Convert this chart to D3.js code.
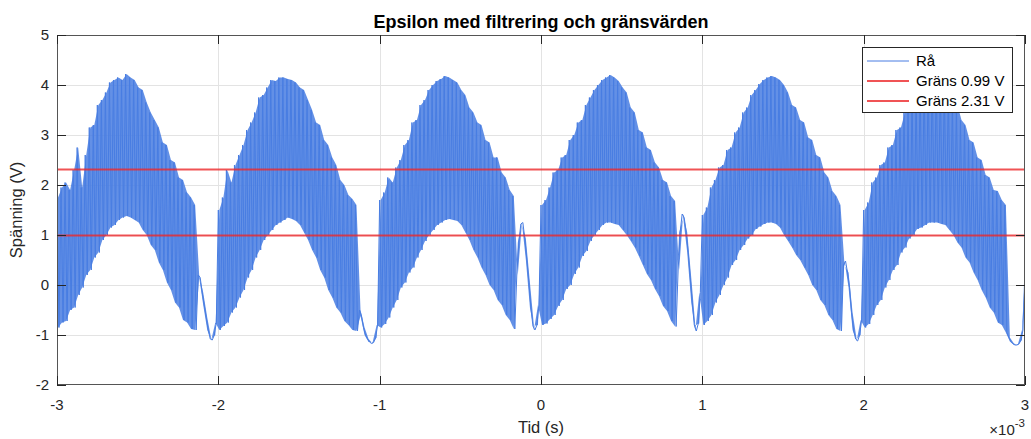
<!DOCTYPE html>
<html>
<head>
<meta charset="utf-8">
<script src="https://cdn.jsdelivr.net/npm/d3@7"></script>
<style>
  body { margin: 0; background: #fff; }
  svg { display: block; }
  text { font-family: "Liberation Sans", Arial, Helvetica, sans-serif; fill: #262626; }
</style>
</head>
<body>
<svg id="chart" width="1031" height="439"></svg>
<script>
// Axis ticks (time in units of 1e-3 s)
const xTicks = [-3, -2, -1, 0, 1, 2, 3];
const yTicks = [-2, -1, 0, 1, 2, 3, 4, 5];

// Threshold levels (V)
const thresholds = [0.99, 2.31];
const legendLabels = ["Rå", "Gräns 0.99 V", "Gräns 2.31 V"];

// Raw signal, one bin every 0.025 ms from -3 to 3 ms:
// peaks = value at the start of the bin, troughs = value half a bin later
const sampleStep = 0.025;
const peaks = [
  1.75, 1.95, 2.05, 1.9, 2.3, 2.75, 1.95, 2.6, 3.15, 3.2,
  3.6, 3.7, 3.85, 4.05, 4.1, 4.15, 4.1, 4.22, 4.15, 4.1,
  3.95, 3.9, 3.65, 3.45, 3.3, 3.15, 2.85, 2.8, 2.5, 2.45,
  2.15, 2.1, 1.85, 1.75, 1.6, 0.2, -0.15, -0.65, -1.08, -1.0,

  1.5, 1.75, 2.3, 2.05, 2.4, 2.6, 2.8, 3.1, 3.25, 3.45,
  3.75, 3.8, 3.95, 4.1, 4.08, 4.15, 4.15, 4.12, 4.1, 4.05,
  3.95, 3.9, 3.7, 3.5, 3.25, 3.2, 2.9, 2.8, 2.55, 2.4,
  2.1, 2.0, 1.8, 1.72, 1.6, -0.5, -0.85, -1.08, -1.17, -1.05,

  1.7, 1.85, 2.15, 2.05, 2.35, 2.5, 2.8, 2.9, 3.25, 3.3,
  3.6, 3.7, 3.9, 4.0, 4.08, 4.12, 4.18, 4.15, 4.1, 4.05,
  3.9, 3.8, 3.55, 3.45, 3.25, 3.2, 2.9, 2.85, 2.55, 2.55,
  2.25, 2.15, 1.9, 1.78, 0.2, 1.22, 0.92, 0.05, -0.82, -0.8,

  1.6, 1.7, 1.95, 2.25, 2.3, 2.55, 2.6, 2.9, 3.0, 3.25,
  3.3, 3.6, 3.75, 3.9, 4.0, 4.1, 4.15, 4.2, 4.15, 4.08,
  3.95, 3.85, 3.55, 3.45, 3.1, 3.05, 2.75, 2.7, 2.45, 2.35,
  2.1, 2.05, 1.78, 1.68, 0.3, 1.42, 1.05, 0.15, -0.8, -0.77,

  1.4, 1.55, 1.95, 2.1, 2.35, 2.4, 2.7, 2.75, 3.05, 3.15,
  3.45, 3.55, 3.8, 3.9, 4.02, 4.1, 4.15, 4.18, 4.15, 4.1,
  4.0, 3.85, 3.6, 3.55, 3.3, 3.25, 2.95, 2.9, 2.6, 2.55,
  2.25, 2.15, 1.88, 1.78, 1.6, 0.4, 0.25, -0.55, -1.08, -1.0,

  1.5, 1.65, 2.05, 2.15, 2.4, 2.45, 2.75, 2.8, 3.1, 3.15,
  3.45, 3.5, 3.75, 3.8, 3.98, 4.05, 4.1, 4.15, 4.15, 4.1,
  4.0, 3.9, 3.7, 3.6, 3.3, 3.2, 2.9, 2.85, 2.55, 2.5,
  2.2, 2.15, 1.9, 1.88, 1.7, 1.6, -1.05, -1.17, -1.2, -1.1,
  0.35
];
const troughs = [
  -0.85, -0.75, -0.72, -0.5, -0.45, -0.2, -0.05, 0.2, 0.3, 0.55,
  0.65, 0.9, 1.0, 1.15, 1.2, 1.3, 1.35, 1.38, 1.35, 1.3,
  1.25, 1.1, 1.0, 0.8, 0.7, 0.45, 0.3, 0.05, -0.1, -0.35,
  -0.45, -0.7, -0.75, -0.88, -0.9, 0.15, -0.4, -0.9, -1.1, -0.75,

  -0.9, -0.82, -0.75, -0.55, -0.45, -0.25, -0.1, 0.15, 0.3, 0.55,
  0.7, 0.9, 1.0, 1.1, 1.2, 1.25, 1.3, 1.35, 1.32, 1.28,
  1.2, 1.05, 0.9, 0.7, 0.55, 0.3, 0.15, -0.1, -0.25, -0.45,
  -0.55, -0.72, -0.8, -0.9, -0.92, -0.62, -1.0, -1.14, -1.15, -0.8,

  -0.85, -0.78, -0.65, -0.45, -0.3, -0.05, 0.05, 0.25, 0.35, 0.55,
  0.7, 0.88, 1.0, 1.1, 1.2, 1.25, 1.3, 1.32, 1.3, 1.28,
  1.2, 1.05, 0.9, 0.7, 0.55, 0.35, 0.2, 0.0, -0.1, -0.3,
  -0.4, -0.6, -0.7, -0.88, 0.85, 1.25, 0.5, -0.45, -0.9, -0.4,

  -0.8, -0.77, -0.68, -0.6, -0.42, -0.3, -0.08, 0.0, 0.22, 0.35,
  0.58, 0.68, 0.88, 1.0, 1.1, 1.2, 1.25, 1.25, 1.22, 1.2,
  1.1, 1.0, 0.88, 0.75, 0.58, 0.4, 0.22, 0.1, -0.08, -0.22,
  -0.42, -0.52, -0.72, -0.83, 1.05, 1.35, 0.65, -0.35, -0.92, -0.15,

  -0.8, -0.72, -0.6, -0.35, -0.2, 0.0, 0.15, 0.4, 0.5, 0.7,
  0.8, 0.93, 1.0, 1.12, 1.17, 1.22, 1.25, 1.25, 1.22, 1.15,
  1.0, 0.88, 0.75, 0.6, 0.5, 0.35, 0.2, 0.0, -0.1, -0.3,
  -0.4, -0.6, -0.7, -0.88, -0.92, 0.48, -0.05, -0.9, -1.12, -0.7,

  -0.85, -0.78, -0.6, -0.4, -0.3, -0.05, 0.1, 0.3, 0.4, 0.65,
  0.75, 0.93, 1.0, 1.12, 1.15, 1.2, 1.25, 1.25, 1.25, 1.22,
  1.2, 1.1, 1.0, 0.85, 0.75, 0.55, 0.45, 0.25, 0.1, -0.1,
  -0.25, -0.45, -0.55, -0.75, -0.8, -0.95, -1.13, -1.2, -1.18, -0.9,
  0.6
];

const plot = { left: 57, right: 1025, top: 35, bottom: 385 };

const svg = d3.select("#chart");
const x = d3.scaleLinear().domain([-3, 3]).range([plot.left, plot.right]);
const y = d3.scaleLinear().domain([-2, 5]).range([plot.bottom, plot.top]);

const blue = "rgb(72,125,226)";
const red = "rgb(236,40,42)";
const axisColor = "#262626";

// Plot background
svg.append("rect")
  .attr("x", plot.left).attr("y", plot.top)
  .attr("width", plot.right - plot.left).attr("height", plot.bottom - plot.top)
  .attr("fill", "#fff");

// Grid
const grid = svg.append("g").attr("stroke", "#e3e3e3").attr("stroke-width", 1);
grid.selectAll("line.gx").data(xTicks.slice(1, -1)).join("line")
  .attr("x1", d => Math.round(x(d)) + 0.5).attr("x2", d => Math.round(x(d)) + 0.5)
  .attr("y1", plot.top).attr("y2", plot.bottom);
grid.selectAll("line.gy").data(yTicks.slice(1, -1)).join("line")
  .attr("y1", d => Math.round(y(d)) + 0.5).attr("y2", d => Math.round(y(d)) + 0.5)
  .attr("x1", plot.left).attr("x2", plot.right);

svg.append("clipPath").attr("id", "plotClip")
  .append("rect")
  .attr("x", plot.left).attr("y", plot.top)
  .attr("width", plot.right - plot.left).attr("height", plot.bottom - plot.top);

const dataLayer = svg.append("g").attr("clip-path", "url(#plotClip)");

// Signal bins
const bins = peaks.map((p, i) => ({ t: -3 + i * sampleStep, hi: p, lo: troughs[i] }));

// Filled envelope of the fast oscillation
const band = d3.area()
  .x(d => x(d.t + sampleStep / 4))
  .y0(d => y(d.lo))
  .y1(d => y(d.hi));
dataLayer.append("path")
  .datum(bins)
  .attr("d", band)
  .attr("fill", blue)
  .attr("fill-opacity", 0.85);

// Raw trace: peak then trough in each bin
const trace = [];
bins.forEach(b => {
  trace.push([b.t, b.hi]);
  trace.push([b.t + sampleStep / 2, b.lo]);
});
const line = d3.line().x(d => x(d[0])).y(d => y(d[1]));
dataLayer.append("path")
  .datum(trace)
  .attr("d", line)
  .attr("fill", "none")
  .attr("stroke", blue)
  .attr("stroke-width", 1)
  .attr("stroke-linejoin", "miter");

// Threshold lines
dataLayer.selectAll("line.thr").data(thresholds).join("line")
  .attr("x1", plot.left).attr("x2", plot.right)
  .attr("y1", d => y(d)).attr("y2", d => y(d))
  .attr("stroke", red).attr("stroke-opacity", 0.8).attr("stroke-width", 2);

// Axes box and inward ticks
const axes = svg.append("g").attr("stroke", axisColor).attr("stroke-width", 1).attr("fill", "none");
axes.append("rect")
  .attr("x", plot.left + 0.5).attr("y", plot.top + 0.5)
  .attr("width", plot.right - plot.left - 1).attr("height", plot.bottom - plot.top - 1)
  .attr("stroke", "#555");
const tickLen = 9;
axes.selectAll("line.xb").data(xTicks).join("line")
  .attr("x1", d => Math.round(x(d)) + 0.5).attr("x2", d => Math.round(x(d)) + 0.5)
  .attr("y1", plot.bottom).attr("y2", plot.bottom - tickLen);
axes.selectAll("line.xt").data(xTicks).join("line")
  .attr("class", "xt")
  .attr("x1", d => Math.round(x(d)) + 0.5).attr("x2", d => Math.round(x(d)) + 0.5)
  .attr("y1", plot.top).attr("y2", plot.top + tickLen);
axes.selectAll("line.yl").data(yTicks).join("line")
  .attr("class", "yl")
  .attr("y1", d => Math.round(y(d)) + 0.5).attr("y2", d => Math.round(y(d)) + 0.5)
  .attr("x1", plot.left).attr("x2", plot.left + tickLen);
axes.selectAll("line.yr").data(yTicks).join("line")
  .attr("class", "yr")
  .attr("y1", d => Math.round(y(d)) + 0.5).attr("y2", d => Math.round(y(d)) + 0.5)
  .attr("x1", plot.right).attr("x2", plot.right - tickLen);

// Tick labels
svg.append("g").selectAll("text").data(xTicks).join("text")
  .attr("x", d => x(d)).attr("y", 409.5)
  .attr("text-anchor", "middle")
  .attr("font-size", 15)
  .text(d => d);
svg.append("g").selectAll("text").data(yTicks).join("text")
  .attr("x", 49).attr("y", d => y(d))
  .attr("dy", "0.36em")
  .attr("text-anchor", "end")
  .attr("font-size", 15)
  .text(d => d);

// Exponent of the time axis
const expo = svg.append("text")
  .attr("x", plot.right).attr("y", 435)
  .attr("text-anchor", "end")
  .attr("font-size", 15);
expo.append("tspan").text("×10");
expo.append("tspan").attr("dy", -8).attr("font-size", 11.5).text("-3");

// Axis labels and title
svg.append("text")
  .attr("x", (plot.left + plot.right) / 2).attr("y", 433)
  .attr("text-anchor", "middle").attr("font-size", 16.5)
  .text("Tid (s)");
svg.append("text")
  .attr("transform", `translate(22,${(plot.top + plot.bottom) / 2}) rotate(-90)`)
  .attr("text-anchor", "middle").attr("font-size", 16.5)
  .text("Spänning (V)");
svg.append("text")
  .attr("x", (plot.left + plot.right) / 2).attr("y", 28)
  .attr("text-anchor", "middle").attr("font-size", 18).attr("font-weight", "bold")
  .style("fill", "#000")
  .text("Epsilon med filtrering och gränsvärden");

// Legend
const legend = svg.append("g").attr("transform", "translate(862,47)");
legend.append("rect")
  .attr("x", 0.5).attr("y", 0.5).attr("width", 150).attr("height", 65)
  .attr("fill", "#fff").attr("stroke", axisColor).attr("stroke-width", 1);
const legendStyles = [
  { stroke: blue, width: 1, opacity: 1 },
  { stroke: red, width: 2, opacity: 0.8 },
  { stroke: red, width: 2, opacity: 0.8 }
];
legendLabels.forEach((label, i) => {
  const cy = 14 + i * 20;
  legend.append("line")
    .attr("x1", 5).attr("x2", 47).attr("y1", cy).attr("y2", cy)
    .attr("stroke", legendStyles[i].stroke)
    .attr("stroke-width", legendStyles[i].width)
    .attr("stroke-opacity", legendStyles[i].opacity);
  legend.append("text")
    .attr("x", 54).attr("y", cy).attr("dy", "0.36em")
    .attr("font-size", 15)
    .style("fill", "#000")
    .text(label);
});
</script>
</body>
</html>
